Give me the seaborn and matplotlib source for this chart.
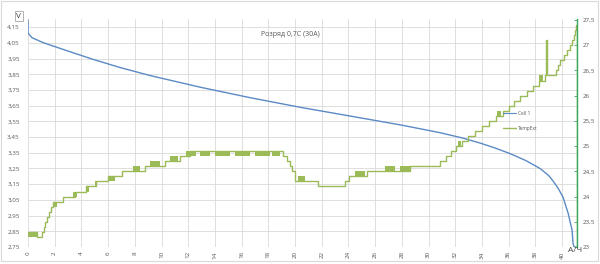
import matplotlib
matplotlib.use("Agg")
import matplotlib.pyplot as plt
import seaborn as sns
import pandas as pd
from matplotlib.patches import Rectangle

# ---------------- data ----------------
cap_v = [0.0, 0.0, 0.30, 1.12, 2.92, 4.87, 6.89, 9.14, 12.88, 16.63, 20.37,
         24.12, 27.87, 30.86, 32.50, 33.86, 35.00, 36.10, 37.30, 38.35,
         39.00, 39.33, 39.70, 40.07, 40.45, 40.75, 40.82, 40.90, 41.12]
volt = [4.196, 4.113, 4.083, 4.052, 4.000, 3.945, 3.893, 3.842, 3.768, 3.701,
        3.640, 3.584, 3.528, 3.478, 3.445, 3.412, 3.380, 3.345, 3.300, 3.250,
        3.205, 3.170, 3.125, 3.068, 2.967, 2.858, 2.775, 2.750, 2.750]

cap_t = [0.00, 0.67, 1.05, 1.20, 1.31, 1.42, 1.57, 1.72, 1.87, 2.62, 3.52,
         4.34, 5.09, 5.99, 7.04, 8.76, 10.26, 11.39, 12.13, 19.10, 19.40,
         19.63, 19.78, 20.00, 21.72, 23.75, 24.04, 25.39, 28.61, 30.86,
         31.31, 31.69, 32.06, 32.51, 32.96, 33.48, 34.01, 34.53, 35.06,
         35.58, 36.03, 36.40, 36.85, 37.38, 37.83, 38.28, 38.73, 38.80,
         38.85, 39.55, 39.70, 39.85, 40.15, 40.37, 40.60, 40.75, 40.90,
         41.00, 41.08, 41.12]
temp = [23.3, 23.2, 23.3, 23.4, 23.5, 23.6, 23.7, 23.8, 23.9, 24.0, 24.1,
        24.2, 24.3, 24.4, 24.5, 24.6, 24.7, 24.8, 24.9, 24.8, 24.7,
        24.6, 24.5, 24.3, 24.2, 24.3, 24.4, 24.5, 24.6, 24.7,
        24.8, 24.9, 25.0, 25.1, 25.2, 25.3, 25.4, 25.5, 25.6,
        25.7, 25.8, 25.9, 26.0, 26.1, 26.2, 26.3, 26.4, 27.1,
        26.4, 26.5, 26.6, 26.7, 26.8, 26.9, 27.0, 27.1, 27.2,
        27.3, 27.4, 23.0]

# sensor flicker bands (start Ah, end Ah, low °C, high °C)
flick_x0 = [0.00, 1.87, 3.37, 4.34, 5.00, 5.99, 7.87, 9.14, 10.64, 11.84,
            12.88, 14.00, 15.50, 17.00, 18.28, 20.22, 24.49, 26.74, 27.87,
            32.21, 35.13, 38.28]
flick_x1 = [0.67, 2.17, 3.67, 4.57, 5.20, 6.52, 8.39, 9.89, 11.24, 12.58,
            13.63, 15.13, 16.63, 18.13, 18.88, 20.75, 25.24, 27.49, 28.61,
            32.43, 35.43, 38.58]
flick_lo = [23.2, 23.8, 24.0, 24.1, 24.2, 24.3, 24.5, 24.6, 24.7, 24.8,
            24.8, 24.8, 24.8, 24.8, 24.8, 24.3, 24.4, 24.5, 24.5,
            25.0, 25.6, 26.3]
flick_hi = [23.3, 23.9, 24.1, 24.2, 24.3, 24.4, 24.6, 24.7, 24.8, 24.9,
            24.9, 24.9, 24.9, 24.9, 24.9, 24.4, 24.5, 24.6, 24.6,
            25.1, 25.7, 26.4]

x_ticks = [0, 2, 4, 6, 8, 10, 12, 14, 16, 18, 20, 22, 24, 26, 28, 30, 32,
           34, 36, 38, 40]
x_tick_labels = [str(v) for v in x_ticks]
v_ticks = [2.75, 2.85, 2.95, 3.05, 3.15, 3.25, 3.35, 3.45, 3.55, 3.65, 3.75,
           3.85, 3.95, 4.05, 4.15]
v_tick_labels = ["2,75", "2,85", "2,95", "3,05", "3,15", "3,25", "3,35",
                 "3,45", "3,55", "3,65", "3,75", "3,85", "3,95", "4,05", "4,15"]
t_ticks = [23, 23.5, 24, 24.5, 25, 25.5, 26, 26.5, 27, 27.5]
t_tick_labels = ["23", "23,5", "24", "24,5", "25", "25,5", "26", "26,5",
                 "27", "27,5"]

title = "Розряд 0,7C (30A)"
series_names = ["Cell 1", "TempExt"]

BLUE = "#5b8ac4"
GREEN = "#9bbb59"
AXGREEN = "#3aa65c"
GRID = "#d9d9d9"
TXT = "#595959"

sns.set_theme(style="white")
plt.rcParams["font.family"] = ["Open Sans", "DejaVu Sans"]

fig = plt.figure(figsize=(6, 2.64), dpi=100)
ax = fig.add_axes([28 / 600, 1 - 247 / 264, (577 - 28) / 600, 228 / 264])
ax2 = ax.twinx()

dv = pd.DataFrame({"cap": cap_v, "v": volt})
dt = pd.DataFrame({"cap": cap_t, "t": temp})

sns.lineplot(data=dv, x="cap", y="v", ax=ax, color=BLUE, lw=1.0,
             estimator=None, sort=False)
for x0, x1, lo, hi in zip(flick_x0, flick_x1, flick_lo, flick_hi):
    ax2.fill_between([x0, x1], [lo, lo], [hi, hi], color=GREEN, lw=0)
sns.lineplot(data=dt, x="cap", y="t", ax=ax2, color=GREEN, lw=1.0,
             estimator=None, sort=False, drawstyle="steps-post")

ax.set_xlim(0, 41.12)
ax.set_ylim(2.75, 4.202)
ax2.set_ylim(23, 27.52)

ax.set_xticks(x_ticks)
ax.set_xticklabels(x_tick_labels, rotation=90)
ax.set_yticks(v_ticks)
ax.set_yticklabels(v_tick_labels)
ax2.set_yticks(t_ticks)
ax2.set_yticklabels(t_tick_labels)
ax.set_xlabel("")
ax.set_ylabel("")
ax2.set_ylabel("")

ax.grid(True, color=GRID, lw=0.6)
ax2.grid(False)
for s in ["left", "top", "bottom", "right"]:
    ax.spines[s].set_visible(False)
    ax2.spines[s].set_visible(False)
ax2.spines["right"].set_visible(True)
ax2.spines["right"].set_color(AXGREEN)
ax2.spines["right"].set_linewidth(1.0)

ax.tick_params(axis="y", labelsize=4.5, colors=TXT, length=0, pad=6)
ax.tick_params(axis="x", labelsize=4.5, colors=TXT, length=0, pad=3)
ax2.tick_params(axis="y", labelsize=4.5, labelcolor=TXT, color=AXGREEN,
                direction="in", length=2, width=0.6, pad=4)

l1 = plt.Line2D([], [], color=BLUE, lw=0.8)
l2 = plt.Line2D([], [], color=GREEN, lw=1.0)
ax2.legend([l1, l2], series_names, loc="center left",
           bbox_to_anchor=(503 / 600, 1 - 121 / 264),
           bbox_transform=fig.transFigure, frameon=False, fontsize=3.5,
           handlelength=2.6, borderpad=0, borderaxespad=0,
           labelspacing=2.0, handletextpad=0.4, labelcolor=TXT)

fig.text(290 / 600, 1 - 35 / 264, title, ha="center", va="center",
         fontsize=5, color=TXT)
fig.text(19 / 600, 1 - 16 / 264, "V", ha="center", va="center", fontsize=6,
         color="#404040",
         bbox=dict(boxstyle="square,pad=0.2", fc="white", ec="#a6a6a6", lw=0.6))
fig.text(575 / 600, 1 - 251 / 264, "А/Ч", ha="center", va="center",
         fontsize=6, color="#404040")

fig.patches.append(Rectangle((0.002, 0.01), 0.995, 0.985,
                             transform=fig.transFigure, fill=False,
                             ec=GRID, lw=0.8))

fig.savefig("out.png", dpi=100)
